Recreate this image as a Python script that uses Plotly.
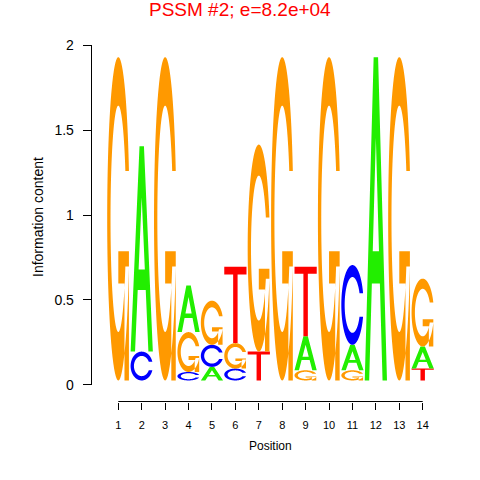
import numpy as np
import plotly.graph_objects as go

# 정보량(bits), 위치별 문자 높이
positions = list(range(1, 15))
height_A = [0, 1.21, 0, 0.275, 0.08, 0, 0, 0, 0.20, 0, 0.15, 1.905, 0, 0.13]
height_C = [0, 0.17, 0, 0.05, 0.13, 0.07, 0, 0, 0, 0, 0.47, 0, 0, 0]
height_G = [1.905, 0, 1.905, 0.235, 0.26, 0.15, 1.22, 1.905, 0.06, 1.905, 0.06, 0, 1.905, 0.40]
height_T = [0, 0, 0, 0, 0, 0.45, 0.17, 0, 0.41, 0, 0, 0, 0, 0.07]
y_ticks = [0, 0.5, 1, 1.5, 2]
y_tick_labels = ['0', '0.5', '1', '1.5', '2']
title_text = 'PSSM #2; e=8.2e+04'

COLORS = {'A': '#22EE00', 'C': '#0000FF', 'G': '#FF9900', 'T': '#FF0000'}
FONT = 'Liberation Sans, Arial, sans-serif'
BASE = 0.025      # 글자 시작 기준선
LETTER_W = 0.95


def px_x(px):
    return px / 480


def px_y(py):
    return 1 - py / 480


def c_rings(with_bar=False):
    """C / G 글리프 (단위 박스 좌표)"""
    a1 = np.linspace(0.3 + np.pi / 2, np.pi, 100)
    a2 = np.linspace(np.pi, 1.5 * np.pi, 100)
    xl = np.concatenate([0.5 + 0.5 * np.sin(a1), 0.5 + 0.5 * np.sin(a2)])
    yl = np.concatenate([0.5 + 0.5 * np.cos(a1), 0.5 + 0.5 * np.cos(a2)])
    h = yl[:100].max()
    xo = np.concatenate([xl, xl[::-1]])
    yo = np.concatenate([yl, 1 - yl[::-1]])
    xi1 = 0.5 + 0.35 * np.sin(a1)
    yi1 = 0.5 + 0.35 * np.cos(a1)
    keep = yi1 <= h
    xi1, yi1 = xi1[keep], yi1[keep]
    yi1[0] = h
    xi = np.concatenate([xi1, 0.5 + 0.35 * np.sin(a2)])
    yi = np.concatenate([yi1, 0.5 + 0.35 * np.cos(a2)])
    xin = np.concatenate([xi, xi[::-1]])
    yin = np.concatenate([yi, 1 - yi[::-1]])
    rings = [(np.concatenate([xo, xin[::-1]]), np.concatenate([yo, yin[::-1]]))]
    if with_bar:
        r1 = xl[:100].max()
        hb = 0.4
        rings.append((np.array([r1, 0.5, 0.5, r1 - 0.2, r1 - 0.2, r1]),
                      np.array([hb, hb, hb - 0.1, hb - 0.1, 0, 0])))
    return rings


GLYPHS = {
    'A': [(np.array([0, .4, .6, 1, .8, .68, .32, .2]), np.array([0, 1, 1, 0, 0, .3, .3, 0])),
          (np.array([.64, .5, .36]), np.array([.4, .75, .4]))],
    'T': [(np.array([0, 1, 1, .6, .6, .4, .4, 0]), np.array([1, 1, .9, .9, 0, 0, .9, .9]))],
    'C': c_rings(False),
    'G': c_rings(True),
}


def letter_path(letter, xc, y0, h):
    parts = []
    for gx, gy in GLYPHS[letter]:
        px = xc - LETTER_W / 2 + gx * LETTER_W
        py = y0 + gy * h
        pts = ' L '.join(f'{a:.4f},{b:.4f}' for a, b in zip(px, py))
        parts.append(f'M {pts} Z')
    return ' '.join(parts)


heights = {'A': height_A, 'C': height_C, 'G': height_G, 'T': height_T}
shapes = []
for i, p in enumerate(positions):
    stack = sorted([(heights[l][i], l) for l in 'ACGT' if heights[l][i] > 0])
    y0 = BASE
    for h, l in stack:
        shapes.append(dict(type='path', xref='x', yref='y', path=letter_path(l, p, y0, h),
                           fillcolor=COLORS[l], line=dict(width=0), layer='above'))
        y0 += h

X_AXIS_POS = px_y(401.5)
# x축 선 (1~14 구간만)
shapes.append(dict(type='line', xref='x', yref='paper', x0=1, x1=14,
                   y0=X_AXIS_POS, y1=X_AXIS_POS, line=dict(color='#000000', width=1)))

fig = go.Figure()
# 축 스케일을 위한 보이지 않는 트레이스
fig.add_trace(go.Scatter(x=positions, y=[0] * len(positions), mode='markers',
                         marker=dict(opacity=0), hoverinfo='skip', showlegend=False))

fig.update_layout(
    template='none',
    width=480, height=480,
    margin=dict(l=0, r=0, t=0, b=0),
    paper_bgcolor='white', plot_bgcolor='white',
    font=dict(family=FONT, color='#000000'),
    shapes=shapes,
    xaxis=dict(range=[0.5, 14.5], domain=[px_x(106.6), px_x(434.4)], anchor='free',
               position=X_AXIS_POS, tickvals=positions, ticktext=[str(p) for p in positions],
               ticks='outside', ticklen=7, tickcolor='#000000', tickwidth=1,
               showline=False, showgrid=False, zeroline=False, automargin=False,
               tickfont=dict(size=11, family=FONT), ticklabelstandoff=6),
    yaxis=dict(range=[0, 2], domain=[px_y(384.7), px_y(45.3)], anchor='free',
               position=px_x(90.7), tickvals=y_ticks, ticktext=y_tick_labels,
               ticks='outside', ticklen=8, tickcolor='#000000', tickwidth=1,
               showline=True, linecolor='#000000', linewidth=1,
               showgrid=False, zeroline=False, automargin=False,
               tickfont=dict(size=14, family=FONT), ticklabelstandoff=6),
    annotations=[
        dict(text=title_text, xref='paper', yref='paper', x=px_x(240), y=px_y(9),
             xanchor='center', yanchor='middle', showarrow=False,
             font=dict(size=19, color='#FF0000', family=FONT)),
        dict(text='Position', xref='x', yref='paper', x=7.5, y=px_y(445.7),
             xanchor='center', yanchor='middle', showarrow=False,
             font=dict(size=12, family=FONT)),
        dict(text='Information content', xref='paper', yref='paper', x=px_x(38), y=px_y(217),
             xanchor='center', yanchor='middle', textangle=-90, showarrow=False,
             font=dict(size=14, family=FONT)),
    ],
)

# 페이지 기본 여백 제거, 모드바 숨김
fig.write_html('out.html', config={'displayModeBar': False},
               post_script="document.body.style.margin='0';")
